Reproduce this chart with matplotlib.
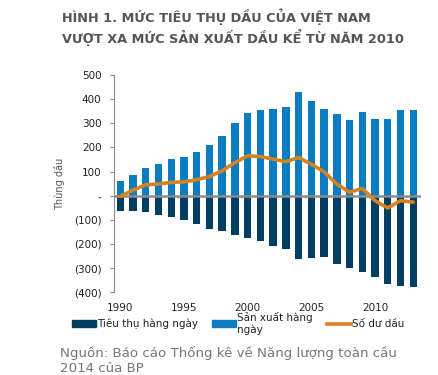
import numpy as np
import matplotlib.pyplot as plt
from matplotlib.patches import Patch
from matplotlib.lines import Line2D

years = list(range(1990, 2014))
production = [59, 85, 116, 133, 151, 160, 182, 208, 248, 301, 342, 353,
              360, 367, 429, 393, 360, 338, 314, 348, 316, 319, 355, 355]
consumption = [-62, -63, -66, -82, -90, -103, -116, -137, -148, -164, -174, -189,
               -208, -223, -264, -260, -256, -285, -301, -315, -338, -367, -373, -379]
balance = [-3, 23, 45, 48, 55, 57, 66, 79, 103, 137, 165, 162,
           151, 141, 158, 130, 99, 48, 14, 30, -21, -51, -21, -27]
yticks = [500, 400, 300, 200, 100, 0, -100, -200, -300, -400]
ytick_labels = ['500', '400', '300', '200', '100', '-', '(100)', '(200)', '(300)', '(400)']

c_dark = '#003e62'
c_light = '#0a7cbf'
c_orange = '#d6821f'

fig = plt.figure(figsize=(4.38, 3.75), dpi=100)
ax = fig.add_axes([0.260, 0.221, 0.701, 0.579])

x = np.arange(len(years))
ax.bar(x, production, width=0.58, color=c_light, zorder=2)
ax.bar(x, consumption, width=0.58, color=c_dark, zorder=2)
ax.axhline(0, color='#8c8c8c', lw=1.8, zorder=3)
ax.vlines(np.arange(4, len(years), 5) + 0.5, -8, 0, color='#8c8c8c', lw=0.8, zorder=3)
ax.plot(x, balance, color=c_orange, lw=2.6, solid_joinstyle='round',
        solid_capstyle='round', zorder=4)

ax.set_xlim(-0.5, len(years) - 0.4)
ax.set_ylim(-400, 500)
ax.set_yticks(yticks)
ax.set_yticklabels(ytick_labels)
ax.set_xticks(x[::5])
ax.set_xticklabels([str(y) for y in years[::5]])
ax.tick_params(axis='x', length=0, pad=8, labelsize=7.5, colors='#222222')
ax.tick_params(axis='y', length=3, width=0.8, color='#8c8c8c', pad=6,
               labelsize=7.5, labelcolor='#222222')
for s in ['top', 'right', 'bottom']:
    ax.spines[s].set_visible(False)
ax.spines['left'].set_color('#8c8c8c')
ax.spines['left'].set_linewidth(0.8)
ax.set_ylabel('Thùng dầu', fontsize=7, color='#555555', labelpad=6)

fig.text(0.142, 0.978, 'HÌNH 1. MỨC TIÊU THỤ DẦU CỦA VIỆT NAM\nVƯỢT XA MỨC SẢN XUẤT DẦU KỂ TỪ NĂM 2010',
         fontsize=9.3, fontweight='bold', color='#555555', va='top', linespacing=1.3)

handles = [Patch(color=c_dark), Patch(color=c_light),
           Line2D([0], [0], color=c_orange, lw=2.6)]
labels = ['Tiêu thụ hàng ngày', 'Sản xuất hàng\nngày', 'Số dư dầu']
fig.legend(handles, labels, loc='upper left', bbox_to_anchor=(0.155, 0.18),
           ncol=3, frameon=False, fontsize=7.5, handlelength=2.3, handleheight=0.6,
           handletextpad=0.1, columnspacing=1.35, borderaxespad=0,
           labelcolor='#222222')

fig.text(0.137, 0.078, 'Nguồn: Báo cáo Thống kê về Năng lượng toàn cầu\n2014 của BP',
         fontsize=9.6, color='#777777', va='top', linespacing=1.2)

fig.savefig('out.png', dpi=100)
